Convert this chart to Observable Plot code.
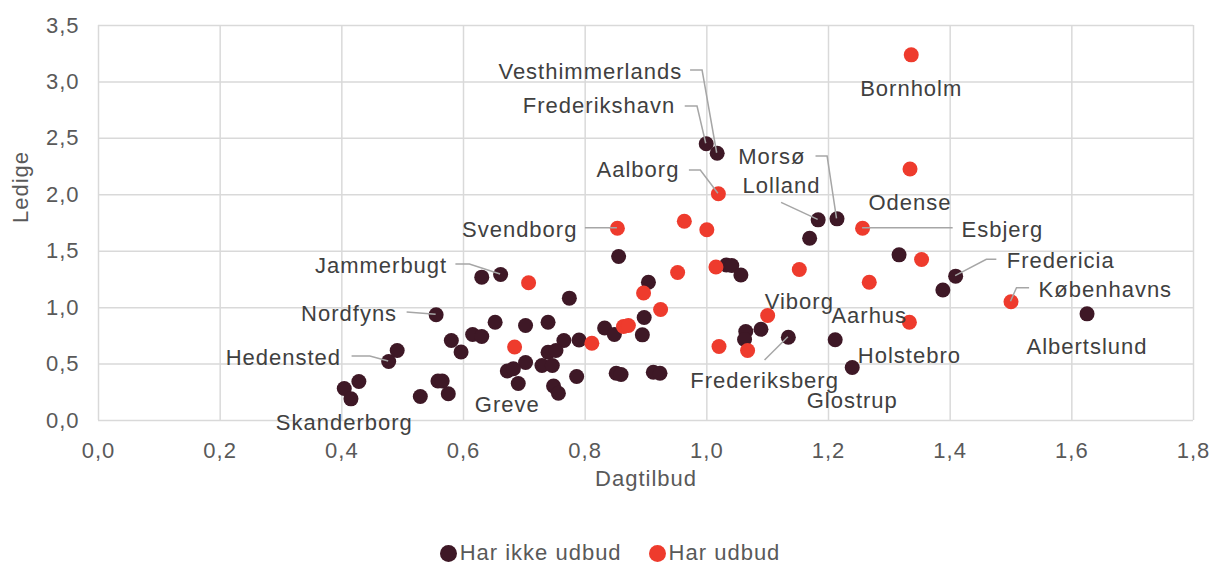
<!DOCTYPE html>
<html>
<head>
<meta charset="utf-8">
<script src="https://cdn.jsdelivr.net/npm/d3@7"></script>
<script src="https://cdn.jsdelivr.net/npm/@observablehq/plot@0.6"></script>
<style>
  body { margin: 0; background: white; overflow: hidden; }
  #legend { display: flex; justify-content: center; align-items: center; gap: 27px; margin-top: 34px; padding-left: 8px;
            font: 22px 'Liberation Sans', Arial, sans-serif; letter-spacing: 1px; color: #595959; line-height: 18px; height: 18px; }
  #legend .item { display: flex; align-items: center; gap: 3px; }
  #legend .sw { width: 17px; height: 17px; border-radius: 50%; display: inline-block; }
</style>
</head>
<body>
<div id="chart"></div>
<div id="legend"></div>
<script>
// ---- data: [Dagtilbud, Ledige, kommune-navn ("" = ikke navngivet)] ----
const harIkkeUdbud = [
  [0.630,1.270,""],[0.661,1.294,"Jammerbugt"],[0.855,1.453,""],[0.774,1.084,""],[0.904,1.225,""],
  [0.555,0.937,"Nordfyns"],[0.652,0.871,""],[0.702,0.842,""],[0.739,0.871,""],[0.580,0.709,""],
  [0.596,0.607,""],[0.615,0.762,""],[0.630,0.744,""],[0.765,0.709,""],[0.790,0.713,""],
  [0.832,0.820,""],[0.848,0.762,""],[0.897,0.913,""],[0.894,0.759,""],[0.739,0.605,""],
  [0.752,0.620,""],[0.702,0.514,""],[0.729,0.487,""],[0.746,0.487,""],[0.672,0.439,"Greve"],
  [0.682,0.458,""],[0.690,0.328,""],[0.748,0.306,""],[0.756,0.242,""],[0.786,0.390,""],
  [0.851,0.419,""],[0.859,0.408,""],[0.912,0.428,""],[0.923,0.419,""],[0.477,0.523,"Hedensted"],
  [0.491,0.620,""],[0.404,0.284,"Skanderborg"],[0.428,0.346,""],[0.415,0.192,""],[0.529,0.213,""],
  [0.558,0.350,""],[0.565,0.350,""],[0.575,0.237,""],[0.999,2.452,"Frederikshavn"],[1.017,2.368,"Vesthimmerlands"],
  [1.183,1.778,"Lolland"],[1.214,1.787,"Morsø"],[1.169,1.615,""],[1.032,1.378,""],[1.041,1.373,""],
  [1.056,1.289,""],[1.316,1.468,""],[1.409,1.279,"Fredericia"],[1.388,1.156,""],[1.625,0.945,"Albertslund"],
  [1.064,0.789,""],[1.062,0.718,""],[1.089,0.808,""],[1.134,0.738,"Frederiksberg"],[1.211,0.715,""],
  [1.239,0.470,"Glostrup"]
];
const harUdbud = [
  [1.336,3.240,"Bornholm"],[1.334,2.228,"Odense"],[1.019,2.009,"Aalborg"],[0.853,1.704,"Svendborg"],
  [0.963,1.766,""],[1.000,1.690,""],[1.256,1.704,"Esbjerg"],[1.353,1.427,""],[1.267,1.225,"Aarhus"],
  [1.152,1.338,"Viborg"],[1.015,1.360,""],[0.952,1.311,""],[0.707,1.220,""],[0.896,1.130,""],
  [0.924,0.984,""],[0.863,0.833,""],[0.871,0.842,""],[0.811,0.685,""],[0.684,0.651,""],
  [1.100,0.930,""],[1.020,0.656,""],[1.067,0.620,""],[1.333,0.871,"Holstebro"],[1.500,1.052,"Københavns"]
];
const serieNavne = ["Har ikke udbud", "Har udbud"];
const serieFarver = ["#3e1826", "#ee3b2d"];
const xTicks = [0, 0.2, 0.4, 0.6, 0.8, 1.0, 1.2, 1.4, 1.6, 1.8];
const yTicks = [0, 0.5, 1.0, 1.5, 2.0, 2.5, 3.0, 3.5];
const xTitle = "Dagtilbud";
const yTitle = "Ledige";

// ---- label placement (pixel offsets relative to the point) ----
const labelLayout = [
  {name:"Vesthimmerlands", dx:-35, dy:-81, anchor:"end", leader:[[-14.6,-82.7],[-26.6,-82.7]]},
  {name:"Frederikshavn", dx:-31, dy:-37.5, anchor:"end", leader:[[-8.7,-37.3],[-21,-37.3]]},
  {name:"Aalborg", dx:-39, dy:-23.5, anchor:"end", leader:[[-17.6,-23.3],[-29,-23.3]]},
  {name:"Morsø", dx:-31.5, dy:-61.6, anchor:"end", leader:[[-9.4,-62.3],[-21,-62.3]]},
  {name:"Lolland", dx:-36.6, dy:-33.6, anchor:"middle", leader:[[-36.6,-17]]},
  {name:"Bornholm", dx:0, dy:34, anchor:"middle"},
  {name:"Odense", dx:0, dy:34, anchor:"middle"},
  {name:"Esbjerg", dx:99, dy:1.6, anchor:"start", leader:[[90.6,0]]},
  {name:"Svendborg", dx:-40, dy:1.5, anchor:"end", leader:[[-32,0]]},
  {name:"Jammerbugt", dx:-53.4, dy:-9, anchor:"end", leader:[[-30.7,-10],[-44.7,-10]]},
  {name:"Nordfyns", dx:-39, dy:-1, anchor:"end", leader:[[-29,-2.3]]},
  {name:"Hedensted", dx:-47.6, dy:-3.7, anchor:"end", leader:[[-18.3,-5],[-36.6,-5]]},
  {name:"Skanderborg", dx:0, dy:34.5, anchor:"middle"},
  {name:"Greve", dx:0, dy:33.5, anchor:"middle"},
  {name:"Viborg", dx:0, dy:32.7, anchor:"middle"},
  {name:"Aarhus", dx:0, dy:33.3, anchor:"middle"},
  {name:"Holstebro", dx:0, dy:33.3, anchor:"middle"},
  {name:"Glostrup", dx:0, dy:33, anchor:"middle"},
  {name:"Albertslund", dx:0, dy:33.4, anchor:"middle"},
  {name:"Frederiksberg", dx:-23.8, dy:43.3, anchor:"middle", leader:[[-23.3,23.3]]},
  {name:"Fredericia", dx:51.2, dy:-15, anchor:"start", leader:[[31.2,-16.4],[41.2,-16.4]]},
  {name:"Københavns", dx:27.6, dy:-12, anchor:"start", leader:[[6,-13.6],[18.6,-13.6]]}
];

const toRows = (arr, serie) => arr.map(([x, y, name]) => ({x, y, name, serie}));
const rows = [...toRows(harIkkeUdbud, serieNavne[0]), ...toRows(harUdbud, serieNavne[1])];
const fmt = d => d.toFixed(1).replace(".", ",");
const FONT = "'Liberation Sans', Arial, sans-serif";

const labelMarks = labelLayout.map(l => Plot.text(rows.filter(r => r.name === l.name), {
  x: "x", y: "y", text: "name", dx: l.dx, dy: l.dy, textAnchor: l.anchor,
  fill: "#404040", fontSize: 22
}));

const chart = Plot.plot({
  width: 1212, height: 510,
  marginTop: 25, marginLeft: 98, marginRight: 19, marginBottom: 90,
  style: {fontFamily: FONT, fontSize: "22px", letterSpacing: "1px", color: "#595959", background: "white", overflow: "visible"},
  x: {domain: [0, 1.8], ticks: xTicks, tickFormat: fmt, tickSize: 0, tickPadding: 22, label: null},
  y: {domain: [0, 3.5], ticks: yTicks, tickFormat: fmt, tickSize: 0, tickPadding: 19, label: null},
  color: {domain: serieNavne, range: serieFarver},
  marks: [
    Plot.ruleX(xTicks, {x: d => d, stroke: "#d9d9d9", strokeWidth: 1.5}),
    Plot.ruleY(yTicks, {y: d => d, stroke: "#d9d9d9", strokeWidth: 1.5}),
    Plot.dot(rows.filter(r => r.serie === serieNavne[0]), {x: "x", y: "y", r: 7.5, fill: "serie"}),
    Plot.dot(rows.filter(r => r.serie === serieNavne[1]), {x: "x", y: "y", r: 7.5, fill: "serie"}),
    ...labelMarks,
    Plot.text([xTitle], {frameAnchor: "bottom", dy: 65, text: d => d, fill: "#595959", fontSize: 22}),
    Plot.text([yTitle], {frameAnchor: "left", dx: -77.5, rotate: -90, text: d => d, fill: "#595959", fontSize: 22})
  ]
});
document.getElementById("chart").appendChild(chart);

// leader lines, positioned through the chart's own scales
const sx = chart.scale("x"), sy = chart.scale("y");
const svgEl = chart.tagName.toLowerCase() === "svg" ? chart : chart.querySelector("svg");
const leaders = labelLayout.filter(l => l.leader).map(l => {
  const r = rows.find(r => r.name === l.name);
  const px = sx.apply(r.x), py = sy.apply(r.y);
  return [[px, py], ...l.leader.map(([ox, oy]) => [px + ox, py + oy])];
});
d3.select(svgEl).append("g")
  .selectAll("path").data(leaders).join("path")
  .attr("d", d3.line())
  .attr("fill", "none").attr("stroke", "#a6a6a6").attr("stroke-width", 1.5);

// legend
const legend = d3.select("#legend");
serieNavne.forEach((n, i) => {
  const it = legend.append("div").attr("class", "item");
  it.append("span").attr("class", "sw").style("background", serieFarver[i]);
  it.append("span").text(n);
});
</script>
</body>
</html>
